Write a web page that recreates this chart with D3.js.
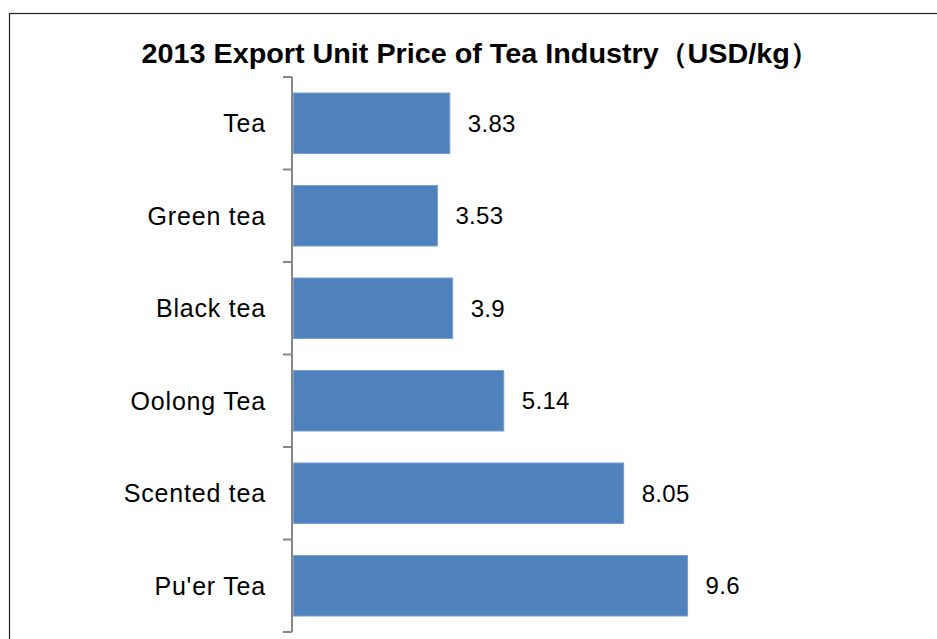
<!DOCTYPE html>
<html>
<head>
<meta charset="utf-8">
<title>2013 Export Unit Price of Tea Industry</title>
<script src="https://d3js.org/d3.v7.min.js"></script>
<style>
  body { margin: 0; background: #fff; }
  text { font-family: "Liberation Sans", Arial, sans-serif; fill: #000; }
</style>
</head>
<body>
<svg width="937" height="639"></svg>
<script>
// data
var categories = ["Tea", "Green tea", "Black tea", "Oolong Tea", "Scented tea", "Pu'er Tea"];
var prices = [3.83, 3.53, 3.9, 5.14, 8.05, 9.6];
var labels = ["3.83", "3.53", "3.9", "5.14", "8.05", "9.6"];

var svg = d3.select("svg"),
    width = +svg.attr("width"),
    height = +svg.attr("height");

// chart area border (runs off the right and bottom edge)
svg.append("rect")
    .attr("x", 9.5)
    .attr("y", 13.5)
    .attr("width", width)
    .attr("height", height)
    .attr("fill", "none")
    .attr("stroke", "#222")
    .attr("stroke-width", 1.2);

svg.append("text")
    .attr("x", 480)
    .attr("y", 63)
    .attr("text-anchor", "middle")
    .attr("font-size", "28px")
    .attr("font-weight", "bold")
    .attr("textLength", 677)
    .attr("lengthAdjust", "spacingAndGlyphs")
    .text("2013 Export Unit Price of Tea Industry（USD/kg）");

var x = d3.scaleLinear()
    .domain([0, 10])
    .range([292, 704]);

var y = d3.scaleBand()
    .domain(categories)
    .range([77, 632])
    .paddingInner(0.335)
    .paddingOuter(0.1675);

var rows = categories.map(function(c, i) {
  return { name: c, value: prices[i], label: labels[i] };
});

svg.append("g")
  .selectAll("rect")
  .data(rows)
  .enter().append("rect")
    .attr("x", x(0) + 1.5)
    .attr("y", function(d) { return y(d.name) + 0.5; })
    .attr("width", function(d) { return x(d.value) - x(0) - 1.5; })
    .attr("height", y.bandwidth() - 1)
    .attr("fill", "#4F81BD")
    .attr("stroke", "#7A9FCF")
    .attr("stroke-width", 1);

svg.append("g")
  .selectAll("text")
  .data(rows)
  .enter().append("text")
    .attr("x", function(d) { return x(d.value) + 18; })
    .attr("y", function(d) { return y(d.name) + y.bandwidth() / 2; })
    .attr("dy", "0.35em")
    .attr("font-size", "24px")
    .attr("letter-spacing", "0.3px")
    .text(function(d) { return d.label; });

// category axis with ticks between bands
var bounds = d3.range(categories.length + 1).map(function(i) { return 77 + i * (555 / categories.length); });

var axis = svg.append("g");
axis.append("line")
    .attr("x1", x(0)).attr("x2", x(0))
    .attr("y1", bounds[0]).attr("y2", bounds[bounds.length - 1])
    .attr("stroke", "#868686")
    .attr("stroke-width", 2);
axis.selectAll(".tick")
  .data(bounds)
  .enter().append("line")
    .attr("class", "tick")
    .attr("x1", x(0) - 9).attr("x2", x(0))
    .attr("y1", function(d) { return d; })
    .attr("y2", function(d) { return d; })
    .attr("stroke", "#868686")
    .attr("stroke-width", 2);

axis.selectAll(".cat")
  .data(categories)
  .enter().append("text")
    .attr("class", "cat")
    .attr("x", 266)
    .attr("y", function(d) { return y(d) + y.bandwidth() / 2; })
    .attr("dy", "0.35em")
    .attr("text-anchor", "end")
    .attr("font-size", "25px")
    .attr("letter-spacing", "0.8px")
    .text(function(d) { return d; });
</script>
</body>
</html>
